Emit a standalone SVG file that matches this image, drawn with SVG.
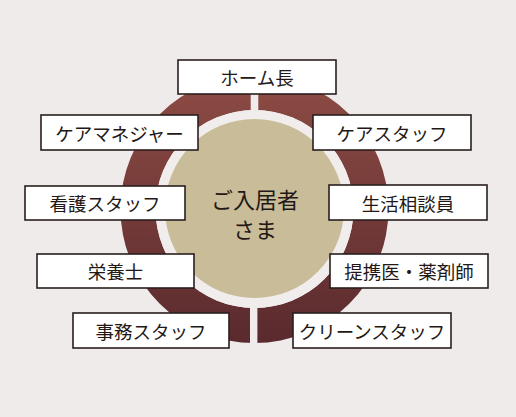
<svg xmlns="http://www.w3.org/2000/svg" width="516" height="417" viewBox="0 0 516 417">
  <defs>
    <linearGradient id="ringGrad" x1="0" y1="0" x2="0" y2="1">
      <stop offset="0" stop-color="#8E4C44"/>
      <stop offset="1" stop-color="#5A2A2E"/>
    </linearGradient>
  </defs>
  <style>
    .box { fill: #ffffff; stroke: #2a1f1f; stroke-width: 1.6; }
    .lbl { font-family: "Noto Sans CJK JP", "Noto Sans CJK SC", sans-serif; font-size: 18.5px; fill: #231815; text-anchor: middle; dominant-baseline: central; }
    .center { font-family: "Noto Sans CJK JP", "Noto Sans CJK SC", sans-serif; font-size: 22px; fill: #231815; text-anchor: middle; dominant-baseline: central; }
    .gap { fill: #F0ECEC; }
  </style>
  <rect x="0" y="0" width="516" height="417" fill="#EFEBEB"/>

  <g id="ring">
    <path fill="url(#ringGrad)" fill-rule="evenodd" d="M 120.5 209 A 134 134 0 1 0 388.5 209 A 134 134 0 1 0 120.5 209 Z M 155.5 209 A 99 99 0 1 1 353.5 209 A 99 99 0 1 1 155.5 209 Z"/>
    <circle cx="254.5" cy="209" r="99" fill="#F1EDED"/>
    <rect class="gap" x="250.7" y="70" width="7.6" height="42"/>
    <rect class="gap" x="250" y="306" width="7.4" height="40"/>
  </g>

  <g id="center">
    <circle cx="254.5" cy="208.5" r="89.5" fill="#C9BC98"/>
    <text class="center" x="255" y="197.5">ご入居者</text>
    <text class="center" x="255" y="227.5">さま</text>
  </g>

  <g id="connectors"></g>

  <g id="home-chief">
    <rect class="box" x="178" y="60" width="158" height="34"/>
    <text class="lbl" x="257" y="77">ホーム長</text>
  </g>
  <g id="care-manager">
    <rect class="box" x="41" y="115" width="157" height="35"/>
    <text class="lbl" x="119.5" y="132.5">ケアマネジャー</text>
  </g>
  <g id="care-staff">
    <rect class="box" x="313" y="115" width="158" height="35"/>
    <text class="lbl" x="392" y="132.5">ケアスタッフ</text>
  </g>
  <g id="nursing-staff">
    <rect class="box" x="25" y="186" width="160" height="34"/>
    <text class="lbl" x="105" y="203">看護スタッフ</text>
  </g>
  <g id="life-counselor">
    <rect class="box" x="329" y="185" width="158" height="35"/>
    <text class="lbl" x="408" y="202.5">生活相談員</text>
  </g>
  <g id="nutritionist">
    <rect class="box" x="37" y="254" width="157" height="34"/>
    <text class="lbl" x="115.5" y="271">栄養士</text>
  </g>
  <g id="doctor-pharmacist">
    <rect class="box" x="330" y="254" width="158" height="34"/>
    <text class="lbl" x="409" y="271">提携医・薬剤師</text>
  </g>
  <g id="office-staff">
    <rect class="box" x="73" y="313" width="156" height="35"/>
    <text class="lbl" x="151" y="330.5">事務スタッフ</text>
  </g>
  <g id="clean-staff">
    <rect class="box" x="293" y="313" width="158" height="35"/>
    <text class="lbl" x="372" y="330.5">クリーンスタッフ</text>
  </g>
</svg>
